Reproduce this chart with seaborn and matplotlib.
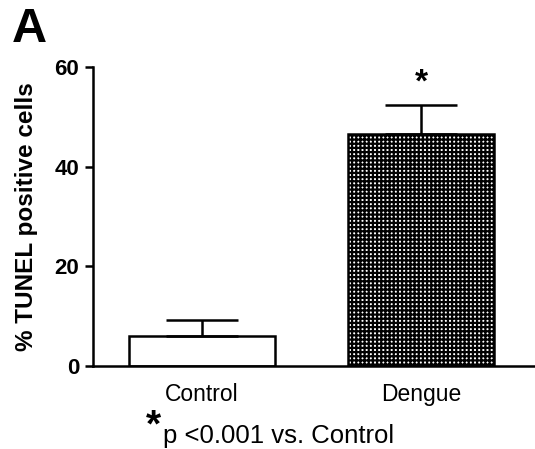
import matplotlib
matplotlib.use("Agg")
import matplotlib.pyplot as plt
import seaborn as sns
import pandas as pd

categories = ["Control", "Dengue"]
means = [6.0, 46.5]
errors = [3.2, 5.8]
yticks = [0, 20, 40, 60]

sns.set_style("ticks")
plt.rcParams["font.family"] = ["Liberation Sans", "DejaVu Sans"]
plt.rcParams["hatch.linewidth"] = 1.6
plt.rcParams["text.color"] = "black"
plt.rcParams["axes.labelcolor"] = "black"
plt.rcParams["xtick.color"] = "black"
plt.rcParams["ytick.color"] = "black"
plt.rcParams["axes.edgecolor"] = "black"

fig = plt.figure(figsize=(5.35, 4.49), dpi=100)
ax = fig.add_axes([93 / 535, 83 / 449, 1 - 93 / 535, (366 - 67) / 449])

df = pd.DataFrame({"group": categories, "value": means})
sns.barplot(data=df, x="group", y="value", ax=ax, width=0.665,
            color="white", edgecolor="black", linewidth=1.8, errorbar=None)

for i, p in enumerate(ax.patches):
    if i == 1:
        p.set_hatch("++++")
        p.set_facecolor("white")
    p.set_edgecolor("black")

ax.errorbar(range(len(categories)), means, yerr=[[0] * len(errors), errors],
            fmt="none", ecolor="black", elinewidth=1.8, capsize=26, capthick=1.8)

ax.set_xlim(-0.497, 1.52)
ax.set_ylim(0, 60)
ax.set_yticks(yticks)
ax.set_yticklabels([str(t) for t in yticks], fontsize=16, fontweight="bold")
ax.set_xticks(range(len(categories)))
ax.set_xticklabels(categories, fontsize=16.5)
ax.tick_params(axis="x", length=0, pad=12)
ax.tick_params(axis="y", length=6, width=1.8, pad=4)
ax.set_xlabel("")
ax.set_ylabel("% TUNEL positive cells", fontsize=17.5, fontweight="bold", labelpad=12)
for s in ["top", "right"]:
    ax.spines[s].set_visible(False)
for s in ["left", "bottom"]:
    ax.spines[s].set_linewidth(1.8)

ax.text(1, means[1] + errors[1] + 4.5, "*", ha="center", va="center",
        fontsize=24, fontweight="bold")

fig.text(12 / 535, 1 - 30 / 449, "A", fontsize=35, fontweight="bold", ha="left", va="center")
fig.text(146 / 535, 1 - 426 / 449, "*", fontsize=28, fontweight="bold", ha="left", va="center")
fig.text(163 / 535, 1 - 443 / 449, "p <0.001 vs. Control", fontsize=18.5, ha="left", va="baseline")

fig.savefig("out.png", dpi=100)
